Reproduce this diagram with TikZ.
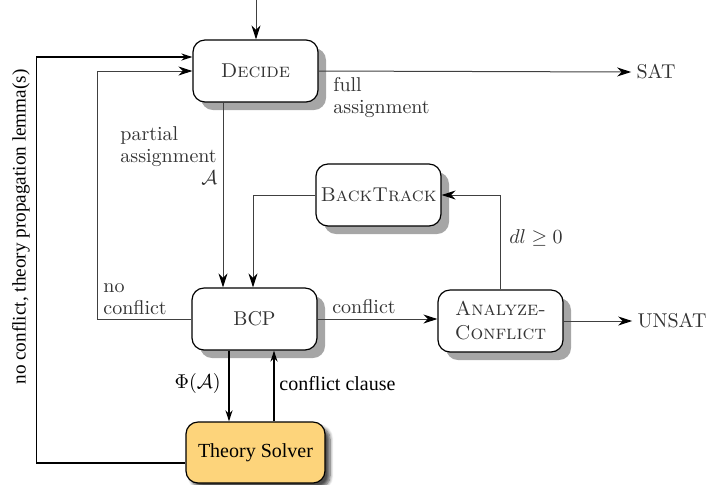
\documentclass[tikz,border=0pt]{standalone}
\usepackage{fontspec}
\newfontfamily\timesfont{Liberation Serif}
\usetikzlibrary{arrows.meta,shadows,shadows.blur,calc}
\definecolor{solveryellow}{HTML}{FDD47B}
\begin{document}
\begin{tikzpicture}[x=0.5pt,y=-0.5pt,
  boxbase/.style={draw=black, line width=0.6pt, rounded corners=6pt, fill=white,
    minimum width=62.5pt, minimum height=31pt, inner sep=0pt, align=center, text=black!80},
  box/.style={boxbase, drop shadow={shadow xshift=4pt, shadow yshift=-4pt, fill=black!35, opacity=1}},
  solver/.style={boxbase, fill=solveryellow, minimum width=69.5pt, minimum height=30.5pt,
    font=\timesfont, text=black, blur shadow={shadow xshift=2.5pt, shadow yshift=-2.5pt, shadow blur steps=6, shadow opacity=70}},
  conn/.style={draw=black!75, line width=0.5pt, -{Stealth[length=7pt,width=4.5pt,color=black]}},
  tconn/.style={draw=black, line width=0.8pt, -{Stealth[length=5.5pt,width=3.5pt]}},
  lbl/.style={text=black!80, inner sep=0pt},
  tlbl/.style={font=\timesfont, text=black, inner sep=0pt}]
\useasboundingbox (0,0) rectangle (707,484);

% nodes
\node[box] (decide) at (255.5,71) {\textsc{Decide}};
\node[box] (bcp) at (254.5,319) {BCP};
\node[box] (back) at (378.5,195) {\textsc{BackTrack}};
\node[box] (ana) at (500.5,321) {\textsc{Analyze-}\\\textsc{Conflict}};
\node[solver] (theory) at (255.5,452.5) {Theory Solver};

\node[lbl, inner xsep=2.5pt] (sat) at (656,72) {SAT};
\node[lbl, inner xsep=2.5pt] (unsat) at (672,321) {UNSAT};
\coordinate (top) at (256,0);

% connectors
\draw[conn] (top) -- (top |- decide.north);
\draw[conn] (decide.east) -- (sat.west);
\draw[conn] ($(decide.south)+(-32.5,0)$) -- ($(bcp.north)+(-31.5,0)$);
\draw[conn] (back.west) -| ($(bcp.north)+(-1.5,0)$);
\draw[conn] (ana.north) |- (back.east);
\draw[conn] (bcp.east) -- (bcp.east -| ana.west);
\draw[conn] (ana.east) -- (unsat.west);
\draw[conn] (bcp.west) -- ++(-94,0) |- (decide.west);
\draw[tconn] ($(theory.west)+(0,10.5)$) -- ++(-149,0) |- ($(decide.west)+(0,-14)$);
\draw[tconn] ($(bcp.south)+(-25.5,0)$) -- ($(theory.north)+(-26.5,0)$);
\draw[tconn] ($(theory.north)+(18.5,0)$) -- ($(bcp.south)+(19.5,0)$);

% labels
\node[lbl, anchor=north west, align=left] (lfull) at (333,77) {full\\[-1pt]assignment};
\node[lbl, anchor=north west, text width=48.5pt, align=left] (lpart) at (120,126)
  {partial\\[-1pt]assignment\\[-1pt]\hfill$\mathcal{A}$};
\node[lbl, anchor=south west, align=left] (lnoc) at (103,315) {no\\[-1pt]conflict};
\node[lbl] (lconf) at (364,307) {conflict};
\node[lbl] (ldl) at (536,238) {$dl \geq 0$};
\node[lbl, text=black, anchor=east] (lphi) at (221,383) {$\Phi(\mathcal{A})$};
\node[tlbl, anchor=west] (lcc) at (279,384) {conflict clause};
\node[tlbl, rotate=90, font=\timesfont\fontsize{9.6pt}{11pt}\selectfont] (lloop) at (21,227) {no conflict, theory propagation lemma(s)};
\end{tikzpicture}
\end{document}
